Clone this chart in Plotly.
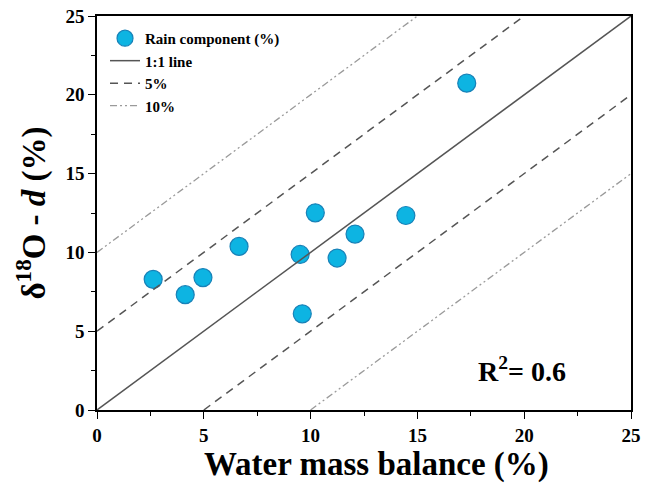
import plotly.graph_objects as go

# Rain component estimates: water mass balance vs δ18O - d (both in %)
mass_balance = [2.63, 4.13, 4.96, 6.65, 9.51, 10.22, 9.61, 11.24, 12.08, 14.46, 17.31]
isotope_d = [8.29, 7.32, 8.40, 10.38, 9.87, 12.51, 6.10, 9.64, 11.16, 12.34, 20.74]

axis_range = [0, 25]
tick_values = [0, 5, 10, 15, 20, 25]
offset_5 = 5
offset_10 = 10
r_squared = 0.6

FONT = "Liberation Serif, Times New Roman, serif"


def band(offset):
    lo, hi = axis_range
    xs = [lo, hi - offset, None, lo + offset, hi]
    ys = [lo + offset, hi, None, lo, hi - offset]
    return xs, ys


fig = go.Figure()

fig.add_trace(go.Scatter(
    x=mass_balance, y=isotope_d, mode="markers", name="Rain component (%)",
    marker=dict(size=18, color="#0DB4E2", line=dict(color="#1882B8", width=1.2)),
))

fig.add_trace(go.Scatter(
    x=axis_range, y=axis_range, mode="lines", name="1:1 line",
    line=dict(color="#555555", width=1.5),
))

x5, y5 = band(offset_5)
fig.add_trace(go.Scatter(
    x=x5, y=y5, mode="lines", name="5%",
    line=dict(color="#555555", width=1.5, dash="8px,6px"),
))

x10, y10 = band(offset_10)
fig.add_trace(go.Scatter(
    x=x10, y=y10, mode="lines", name="10%",
    line=dict(color="#9a9a9a", width=1.3, dash="7px,3px,2px,3px,2px,3px"),
))

fig.add_annotation(
    x=19.9, y=2.6, xref="x", yref="y", showarrow=False,
    text=f"<b>R<sup>2</sup>= {r_squared}</b>",
    font=dict(family=FONT, size=28, color="black"),
)

axis_common = dict(
    range=axis_range, tickvals=tick_values, showgrid=False, zeroline=False,
    showline=True, linecolor="black", linewidth=1.5, mirror=True,
    ticks="outside", ticklen=7, tickwidth=1.3, tickcolor="black",
    minor=dict(ticks="outside", ticklen=4, tickwidth=1.2, tickcolor="black", dtick=2.5, tick0=0),
    tickfont=dict(family=FONT, size=19, color="black", weight="bold"),
    automargin=False,
)

fig.update_xaxes(
    **axis_common,
    title=dict(text="<b>\u00a0\u00a0\u00a0Water mass balance (%)</b>",
               font=dict(family=FONT, size=33, color="black"), standoff=6),
)
fig.update_yaxes(
    **axis_common,
    title=dict(text="<b>δ<sup>18</sup>O - <i>d</i> (%)</b>", font=dict(family=FONT, size=33, color="black"), standoff=10),
)

fig.update_layout(
    width=646, height=492,
    margin=dict(l=97, r=15, t=16, b=82),
    paper_bgcolor="white", plot_bgcolor="white",
    showlegend=True,
    legend=dict(
        x=0.015, y=0.985, xanchor="left", yanchor="top",
        bgcolor="rgba(0,0,0,0)", borderwidth=0,
        font=dict(family=FONT, size=15, color="black", weight="bold"),
        tracegroupgap=0, itemwidth=30,
    ),
)

fig.write_html("out.html")
